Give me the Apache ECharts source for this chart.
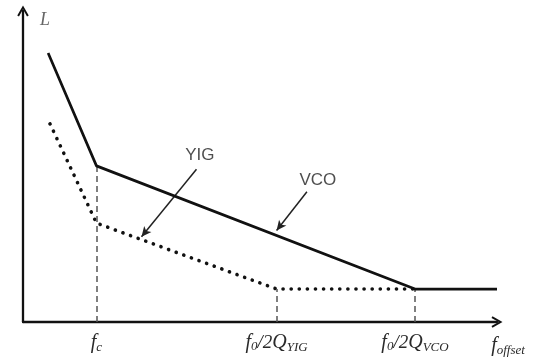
<!DOCTYPE html>
<html><head><meta charset="utf-8">
<script src="https://cdn.jsdelivr.net/npm/echarts@6/dist/echarts.min.js"></script>
<style>html,body{margin:0;padding:0;background:#fff}#c{width:537px;height:360px}</style>
</head><body><div id="c"></div>
<script>
// Schematic data (abstract units: x 0-100, y 0-100)
const vcoX = [5.3, 15.5, 82.7, 100];
const vcoY = [86.5, 50.2, 10.6, 10.6];
const yigX = [5.7, 15.5, 53.5, 82.7];
const yigY = [63.7, 31.8, 10.6, 10.6];
const markerX = [15.5, 53.5, 82.7];           // f_c, f0/2Q_YIG, f0/2Q_VCO
const markerTop = [50.2, 10.6, 10.6];
const tickLabels = ['{f|f}{s|c}', '{f|f}{s0|0}{n|/2}{q|Q}{s|YIG}', '{f|f}{s0|0}{n|/2}{q|Q}{s|VCO}'];
const annoText = ['YIG', 'VCO'];
const annoPos = [[37.3, 53.7], [62.2, 45.7]];
const annoFrom = [[36.6, 49.1], [59.9, 41.9]];
const annoTo = [[25.0, 27.4], [53.5, 29.4]];

const chart = echarts.init(document.getElementById('c'), null, {renderer: 'canvas'});
const chev = 'path://M0,10.5 L6,0 L12,10.5 L10.2,11.5 L6,4 L1.8,11.5 Z';
const serif = 'Liberation Serif';
const rich = {
  f: {fontFamily: serif, fontStyle: 'italic', fontSize: 20, color: '#2a2a2a'},
  s: {fontFamily: serif, fontStyle: 'italic', fontSize: 13, color: '#2a2a2a', padding: [9, 0, 0, 0]},
  s0: {fontFamily: serif, fontStyle: 'italic', fontSize: 13, color: '#2a2a2a', padding: [7, 0, 0, 0]},
  n: {fontFamily: serif, fontStyle: 'italic', fontSize: 19, color: '#2a2a2a'},
  q: {fontFamily: serif, fontStyle: 'italic', fontSize: 20, color: '#2a2a2a'}
};
const zip = (xs, ys) => xs.map((x, i) => [x, ys[i]]);

chart.setOption({
  animation: false,
  backgroundColor: '#fff',
  grid: {left: 23, right: 40, top: 11, bottom: 38},
  xAxis: {
    type: 'value', min: 0, max: 100,
    splitLine: {show: false},
    axisTick: {show: false},
    axisLine: {lineStyle: {color: '#111', width: 2.3}, symbol: ['none', chev], symbolSize: [13, 11]},
    axisLabel: {
      customValues: markerX, margin: 10, color: '#2a2a2a',
      formatter: v => tickLabels[markerX.indexOf(v)] || '',
      rich: rich
    },
    name: '{f|f}{s|offset}', nameLocation: 'end', nameGap: 11,
    nameTextStyle: {rich: rich, align: 'center', verticalAlign: 'top', padding: [13, 0, 0, 0]}
  },
  yAxis: {
    type: 'value', min: 0, max: 100,
    splitLine: {show: false},
    axisTick: {show: false},
    axisLabel: {show: false},
    axisLine: {lineStyle: {color: '#111', width: 2.3}, symbol: ['none', chev], symbolSize: [13, 11]},
    name: 'L', nameLocation: 'end', nameGap: -18,
    nameTextStyle: {fontFamily: serif, fontStyle: 'italic', fontSize: 18, color: '#666', align: 'left', padding: [0, 0, 0, 17]}
  },
  series: [
    {
      type: 'line', data: zip(vcoX, vcoY), symbol: 'none', z: 5,
      lineStyle: {color: '#111', width: 2.7}
    },
    {
      type: 'line', data: zip(yigX, yigY), symbol: 'none', z: 4,
      lineStyle: {color: '#111', width: 3.6, type: [0.1, 8], cap: 'round'}
    },
    {
      type: 'line', data: [], symbol: 'none', z: 3,
      markLine: {
        silent: true, symbol: ['none', 'none'], label: {show: false},
        lineStyle: {color: '#555', width: 1.5, type: [6, 4]},
        data: markerX.map((x, i) => [{coord: [x, 0]}, {coord: [x, markerTop[i]]}])
      }
    },
    {
      type: 'line', data: [], symbol: 'none', z: 6,
      markLine: {
        silent: true, symbol: ['none', 'arrow'], symbolSize: [7, 10], label: {show: false},
        lineStyle: {color: '#222', width: 1.5, type: 'solid'},
        data: annoFrom.map((p, i) => [{coord: p}, {coord: annoTo[i]}])
      }
    },
    {
      type: 'scatter', symbolSize: 0, z: 7,
      data: annoPos.map((p, i) => ({value: p, name: annoText[i]})),
      label: {show: true, position: 'inside', formatter: '{b}', fontFamily: 'Liberation Sans', fontSize: 17, color: '#222'}
    }
  ]
});
</script></body></html>
